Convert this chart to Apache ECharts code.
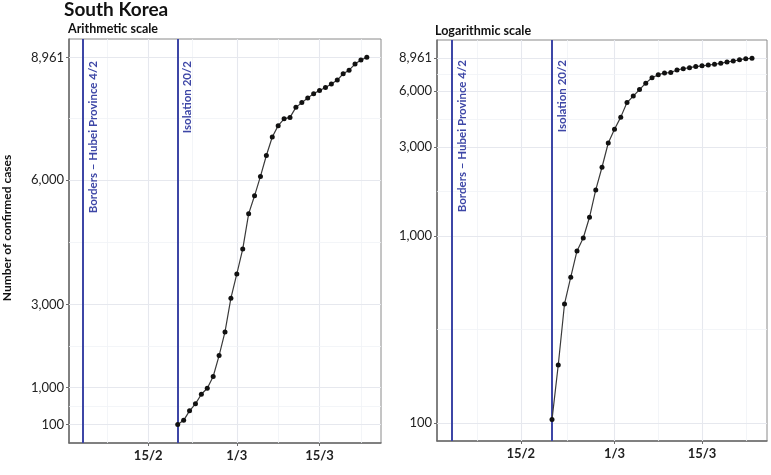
<!DOCTYPE html>
<html lang="en">
<head>
<meta charset="UTF-8">
<title>South Korea</title>
<script src="https://cdn.jsdelivr.net/npm/echarts@6/dist/echarts.min.js"></script>
<style>
html, body { margin: 0; padding: 0; background: #fff; }
#main { width: 771px; height: 475px; }
</style>
</head>
<body>
<div id="main"></div>
<script>
// daily confirmed cases, South Korea
var dates = ['2020-02-20', '2020-02-21', '2020-02-22', '2020-02-23', '2020-02-24', '2020-02-25',
    '2020-02-26', '2020-02-27', '2020-02-28', '2020-02-29', '2020-03-01', '2020-03-02', '2020-03-03',
    '2020-03-04', '2020-03-05', '2020-03-06', '2020-03-07', '2020-03-08', '2020-03-09', '2020-03-10',
    '2020-03-11', '2020-03-12', '2020-03-13', '2020-03-14', '2020-03-15', '2020-03-16', '2020-03-17',
    '2020-03-18', '2020-03-19', '2020-03-20', '2020-03-21', '2020-03-22', '2020-03-23'];
var cases = [104, 204, 433, 602, 833, 977, 1261, 1766, 2337, 3150, 3736, 4335, 5186,
    5621, 6088, 6593, 7041, 7314, 7478, 7513, 7755, 7869, 7979, 8086, 8162, 8236, 8320,
    8413, 8565, 8652, 8799, 8897, 8961];

var eventDates = ['2020-02-04', '2020-02-20'];
var eventNames = ['Borders – Hubei Province 4/2', 'Isolation 20/2'];

var xTicks = ['2020-02-15', '2020-03-01', '2020-03-15'];
var xMinor = ['2020-02-08', '2020-02-22', '2020-03-08', '2020-03-22'];
var yTicks = [100, 1000, 3000, 6000, 8961];
var yMinorLin = [550, 2000, 4500, 7480.5];
var yMinorLog = [316, 1732, 4243, 7333];

var DAY = 86400000;
function ms(s) {
    var p = s.split('-');
    return Date.UTC(+p[0], +p[1] - 1, +p[2]);
}
var xMin = ms('2020-02-04') - 2.4 * DAY;
var xMax = ms('2020-03-23') + 2.4 * DAY;

var myChart = echarts.init(document.getElementById('main'));

var font = 'Lato';
var blue = '#3d46a6';

function xAxisOf(idx) {
    return {
        type: 'value', gridIndex: idx, min: xMin, max: xMax,
        axisLine: { show: true, onZero: false, lineStyle: { color: '#6b6b6b', width: 1.5 } },
        axisTick: { show: true, customValues: xTicks.map(ms), length: 3, lineStyle: { color: '#6b6b6b' } },
        axisLabel: {
            customValues: xTicks.map(ms), color: '#222', fontFamily: font, fontWeight: 'bold', fontSize: 13, margin: 6,
            formatter: function (v) { var d = new Date(v); return d.getUTCDate() + '/' + (d.getUTCMonth() + 1); }
        },
        splitLine: { show: false }
    };
}

function yAxisOf(idx, type, min, max) {
    return {
        type: type, gridIndex: idx, min: min, max: max,
        axisLine: { show: true, onZero: false, lineStyle: { color: '#6b6b6b', width: 1.5 } },
        axisTick: { show: true, customValues: yTicks, length: 3, lineStyle: { color: '#6b6b6b' } },
        axisLabel: {
            customValues: yTicks, color: '#222', fontFamily: font, fontSize: 13, margin: 5,
            formatter: function (v) { return Math.round(v).toLocaleString('en-US'); }
        },
        splitLine: { show: false }
    };
}

function gridSeries(idx, yMinor) {
    var major = { color: '#e6e8ee', width: 1.1, type: 'solid' };
    var minor = { color: '#f0f2f6', width: 0.8, type: 'solid' };
    var lines = [];
    xTicks.forEach(function (d) { lines.push({ xAxis: ms(d), lineStyle: major }); });
    xMinor.forEach(function (d) { lines.push({ xAxis: ms(d) + (d === '2020-02-22' ? DAY / 2 : 0), lineStyle: minor }); });
    yTicks.forEach(function (v) { lines.push({ yAxis: v, lineStyle: major }); });
    yMinor.forEach(function (v) { lines.push({ yAxis: v, lineStyle: minor }); });
    return {
        type: 'line', xAxisIndex: idx, yAxisIndex: idx, data: [], z: 1, silent: true,
        markLine: { silent: true, symbol: ['none', 'none'], label: { show: false }, animation: false, data: lines }
    };
}

function dataSeries(idx) {
    return {
        type: 'line', xAxisIndex: idx, yAxisIndex: idx, z: 5,
        data: dates.map(function (d, i) { return [ms(d), cases[i]]; }),
        symbol: 'circle', symbolSize: 5, showSymbol: true,
        itemStyle: { color: '#111' },
        lineStyle: { color: '#3a3a3a', width: 1.2 },
        markLine: {
            silent: true, symbol: ['none', 'none'], animation: false,
            lineStyle: { color: blue, width: 2, type: 'solid' },
            label: { show: false },
            data: eventDates.map(function (d, i) { return { xAxis: ms(d), name: eventNames[i] }; })
        }
    };
}

option = {
    animation: false,
    textStyle: { fontFamily: font },
    title: [
        { text: 'South Korea', left: 64, top: 0, padding: 0, textStyle: { fontFamily: font, fontWeight: 'bold', fontSize: 19, color: '#111' } },
        { text: 'Arithmetic scale', left: 68, top: 22, padding: 0, textStyle: { fontFamily: font, fontWeight: 'bold', fontSize: 12.5, color: '#111' } },
        { text: 'Logarithmic scale', left: 435, top: 24, padding: 0, textStyle: { fontFamily: font, fontWeight: 'bold', fontSize: 12.5, color: '#111' } }
    ],
    graphic: [{
        type: 'text', x: 7, y: 228, rotation: Math.PI / 2,
        style: { text: 'Number of confirmed cases', font: 'bold 12px Lato', fill: '#111', textAlign: 'center', textVerticalAlign: 'middle' }
    }],
    grid: [
        { left: 69, top: 39, width: 312, height: 404, show: true, borderColor: '#8a8a8a', borderWidth: 1, backgroundColor: '#fff' },
        { left: 437, top: 40, width: 330, height: 401, show: true, borderColor: '#8a8a8a', borderWidth: 1, backgroundColor: '#fff' }
    ],
    xAxis: [xAxisOf(0), xAxisOf(1)],
    yAxis: [
        yAxisOf(0, 'value', -343, 9404),
        yAxisOf(1, 'log', 79.9, 11221)
    ],
    series: [
        gridSeries(0, yMinorLin),
        gridSeries(1, yMinorLog),
        dataSeries(0),
        dataSeries(1)
    ]
};

myChart.setOption(option);

// event labels: rotated text beside each blue line, x taken from the chart's own scale
var gap = [22, 20];
var labels = [];
[0, 1].forEach(function (g) {
    eventDates.forEach(function (d, i) {
        var px = myChart.convertToPixel({ gridIndex: g }, [ms(d), yTicks[0]]);
        labels.push({
            type: 'text', x: px[0] + 4, y: option.grid[g].top + gap[g], rotation: Math.PI / 2, z: 10,
            style: { text: eventNames[i], font: 'bold 11.5px Lato', fill: blue, textAlign: 'right', textVerticalAlign: 'top' }
        });
    });
});
myChart.setOption({ graphic: option.graphic.concat(labels) });
</script>
</body>
</html>
